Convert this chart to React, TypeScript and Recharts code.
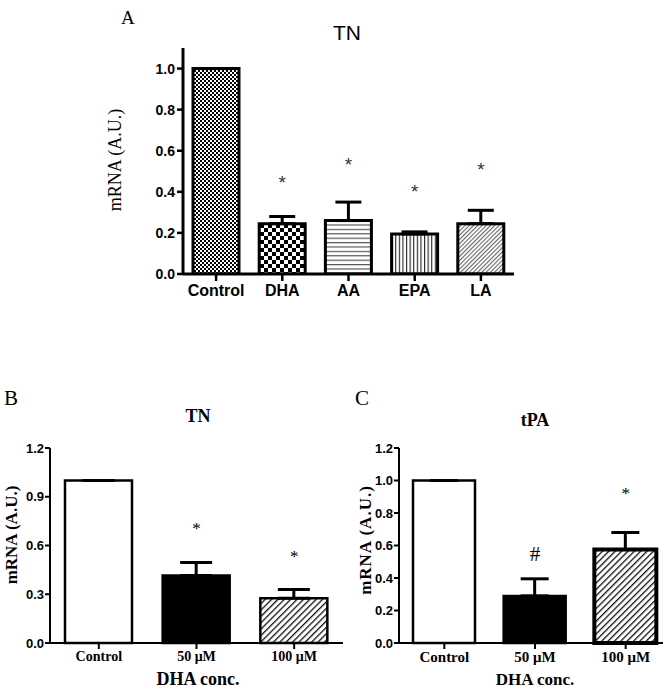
import React from 'react';
import { ComposedChart, Bar, Line, XAxis, YAxis, ErrorBar, Cell } from 'recharts';

// panel A: TN mRNA with different fatty acids
const catsA = ['Control', 'DHA', 'AA', 'EPA', 'LA'];
const valsA = [1.0, 0.245, 0.26, 0.195, 0.245];
const errA = [0, 0.035, 0.09, 0.01, 0.065];
const starA = [null, 0.445, 0.535, 0.4, 0.51];
const ticksA = [0, 0.2, 0.4, 0.6, 0.8, 1.0];

// panels B and C: DHA dose
const catsBC = ['Control', '50 \u03bcM', '100 \u03bcM'];
const valsB = [1.0, 0.415, 0.275];
const errB = [0, 0.08, 0.055];
const starB = [null, 0.705, 0.53];
const ticksB = [0, 0.3, 0.6, 0.9, 1.2];

const valsC = [1.0, 0.29, 0.575];
const errC = [0, 0.105, 0.105];
const markC = [null, 0.545, 0.92];
const markSymC = ['', '#', '*'];
const ticksC = [0, 0.2, 0.4, 0.6, 0.8, 1.0, 1.2];

const fillsA = ['url(#pFineCheck)', 'url(#pCheck)', 'url(#pHoriz)', 'url(#pVert)', 'url(#pDiagLight)'];
const fillsBC = ['#fff', '#000', 'url(#pHatch)'];

const SANS = 'Arial, "Liberation Sans", sans-serif';
const SERIF = '"Times New Roman", "Liberation Serif", serif';

const dataA = catsA.map((name, i) => ({ name, value: valsA[i], err: [0, errA[i]], star: starA[i] }));
const dataB = catsBC.map((name, i) => ({ name, value: valsB[i], err: [0, errB[i]], star: starB[i] }));
const dataC = catsBC.map((name, i) => ({ name, value: valsC[i], err: [0, errC[i]], star: markC[i], sym: markSymC[i] }));

const makeMark = (size: number, family: string, color: string) => (props: any) => {
  const { cx, cy, index, payload } = props;
  if (cy == null || payload.star == null) return <g key={`m${index}`} />;
  const sym = payload.sym || '*';
  return (
    <text key={`m${index}`} x={cx} y={cy} textAnchor="middle" dominantBaseline="central"
      fontSize={sym === '#' ? size + 4 : size} fontFamily={family} fill={color}>
      {sym}
    </text>
  );
};

const Patterns = () => (
  <svg width={0} height={0} style={{ position: 'absolute' }}>
    <defs>
      <pattern id="pFineCheck" width="4" height="4" patternUnits="userSpaceOnUse">
        <rect width="4" height="4" fill="#fff" />
        <rect width="2" height="2" fill="#000" />
        <rect x="2" y="2" width="2" height="2" fill="#000" />
      </pattern>
      <pattern id="pCheck" width="8" height="8" patternUnits="userSpaceOnUse">
        <rect width="8" height="8" fill="#fff" />
        <rect width="4" height="4" fill="#000" />
        <rect x="4" y="4" width="4" height="4" fill="#000" />
      </pattern>
      <pattern id="pHoriz" width="6" height="4.4" patternUnits="userSpaceOnUse">
        <rect width="6" height="4.4" fill="#fff" />
        <rect y="0" width="6" height="1.2" fill="#555" />
      </pattern>
      <pattern id="pVert" width="3.6" height="6" patternUnits="userSpaceOnUse">
        <rect width="3.6" height="6" fill="#fff" />
        <rect x="0" width="1.1" height="6" fill="#222" />
      </pattern>
      <pattern id="pDiagLight" width="3" height="6" patternUnits="userSpaceOnUse" patternTransform="rotate(45)">
        <rect width="3" height="6" fill="#fff" />
        <rect x="0" width="1.1" height="6" fill="#666" />
      </pattern>
      <pattern id="pHatch" width="4.5" height="6" patternUnits="userSpaceOnUse" patternTransform="rotate(45)">
        <rect width="4.5" height="6" fill="#fff" />
        <rect x="0" width="1.3" height="6" fill="#111" />
      </pattern>
    </defs>
  </svg>
);

const textStyle = (family: string, size: number, weight: string | number = 'normal') => ({
  fontFamily: family, fontSize: size, fontWeight: weight, fill: '#000',
});

export default function App() {
  return (
    <div style={{ position: 'fixed', left: 0, top: 0, width: 663, height: 692, overflow: 'hidden', background: '#fff' }}>
      <Patterns />

      {/* A */}
      <div style={{ position: 'absolute', left: 100, top: 0 }}>
        <ComposedChart width={425} height={310} data={dataA} margin={{ top: 48, right: 11, bottom: 6, left: 0 }}>
          <XAxis dataKey="name" height={30} interval={0}
            axisLine={{ stroke: '#000', strokeWidth: 3 }}
            tickLine={{ stroke: '#000', strokeWidth: 2.5 }} tickSize={7} tickMargin={4}
            tick={{ ...textStyle(SANS, 16, 'bold') }} />
          <YAxis domain={[0, 1.1]} ticks={ticksA} width={83} allowDataOverflow
            tickFormatter={(v: number) => v.toFixed(1)}
            axisLine={{ stroke: '#000', strokeWidth: 3 }}
            tickLine={{ stroke: '#000', strokeWidth: 2.5 }} tickSize={6} tickMargin={2}
            tick={{ ...textStyle(SANS, 14, 'bold') }} />
          <Bar dataKey="value" barSize={46} stroke="#000" strokeWidth={3} isAnimationActive={false}>
            {dataA.map((d, i) => <Cell key={d.name} fill={fillsA[i]} />)}
            <ErrorBar dataKey="err" width={13} stroke="#000" strokeWidth={3} direction="y" />
          </Bar>
          <Line dataKey="star" stroke="none" isAnimationActive={false} activeDot={false}
            dot={makeMark(19, SANS, '#333')} />
        </ComposedChart>
      </div>

      {/* B */}
      <div style={{ position: 'absolute', left: 0, top: 380 }}>
        <ComposedChart width={350} height={312} data={dataB} margin={{ top: 68, right: 7, bottom: 4, left: 0 }}>
          <XAxis dataKey="name" height={45} interval={0}
            axisLine={{ stroke: '#000', strokeWidth: 2 }}
            tickLine={{ stroke: '#000', strokeWidth: 2 }} tickSize={6} tickMargin={2}
            tick={{ ...textStyle(SERIF, 14, 'bold') }} />
          <YAxis domain={[0, 1.2]} ticks={ticksB} width={50}
            tickFormatter={(v: number) => v.toFixed(1)}
            axisLine={{ stroke: '#000', strokeWidth: 2 }}
            tickLine={{ stroke: '#000', strokeWidth: 2 }} tickSize={5} tickMargin={1}
            tick={{ ...textStyle(SANS, 13, 'bold') }} />
          <Bar dataKey="value" barSize={67} stroke="#000" strokeWidth={2.5} isAnimationActive={false}>
            {dataB.map((d, i) => <Cell key={d.name} fill={fillsBC[i]} />)}
            <ErrorBar dataKey="err" width={16} stroke="#000" strokeWidth={3} direction="y" />
          </Bar>
          <Line dataKey="star" stroke="none" isAnimationActive={false} activeDot={false}
            dot={makeMark(17, SERIF, '#000')} />
        </ComposedChart>
      </div>

      {/* C */}
      <div style={{ position: 'absolute', left: 340, top: 380 }}>
        <ComposedChart width={340} height={312} data={dataC} margin={{ top: 68, right: 9, bottom: 4, left: 0 }}>
          <XAxis dataKey="name" height={45} interval={0}
            axisLine={{ stroke: '#000', strokeWidth: 2 }}
            tickLine={{ stroke: '#000', strokeWidth: 2 }} tickSize={6} tickMargin={2}
            tick={{ ...textStyle(SERIF, 15, 'bold') }} />
          <YAxis domain={[0, 1.2]} ticks={ticksC} width={59}
            tickFormatter={(v: number) => v.toFixed(1)}
            axisLine={{ stroke: '#000', strokeWidth: 2 }}
            tickLine={{ stroke: '#000', strokeWidth: 2 }} tickSize={5} tickMargin={1}
            tick={{ ...textStyle(SANS, 13, 'bold') }} />
          <Bar dataKey="value" barSize={62} isAnimationActive={false}>
            {dataC.map((d, i) => (
              <Cell key={d.name} fill={fillsBC[i]} stroke="#000" strokeWidth={i === 2 ? 4 : 2.5} />
            ))}
            <ErrorBar dataKey="err" width={14} stroke="#000" strokeWidth={3} direction="y" />
          </Bar>
          <Line dataKey="star" stroke="none" isAnimationActive={false} activeDot={false}
            dot={makeMark(17, SERIF, '#000')} />
        </ComposedChart>
      </div>

      {/* titles, panel letters, axis titles */}
      <svg width={663} height={692} style={{ position: 'absolute', left: 0, top: 0, pointerEvents: 'none' }}>
        <text x={121} y={24} style={textStyle(SERIF, 19)}>A</text>
        <text x={347} y={40} textAnchor="middle" style={textStyle(SANS, 21)}>TN</text>
        <text transform="translate(115,160) rotate(-90)" textAnchor="middle" dominantBaseline="central"
          style={textStyle(SERIF, 18)}>mRNA (A.U.)</text>

        <text x={4} y={405} style={textStyle(SERIF, 21)}>B</text>
        <text x={198} y={422} textAnchor="middle" style={textStyle(SERIF, 18, 'bold')}>TN</text>
        <text transform="translate(11,535) rotate(-90)" textAnchor="middle" dominantBaseline="central"
          style={textStyle(SERIF, 17, 'bold')}>mRNA (A.U.)</text>
        <text x={198} y={685} textAnchor="middle" style={textStyle(SERIF, 18, 'bold')}>DHA conc.</text>

        <text x={355} y={405} style={textStyle(SERIF, 21)}>C</text>
        <text x={535} y={426} textAnchor="middle" style={textStyle(SERIF, 18, 'bold')}>tPA</text>
        <text transform="translate(365,540) rotate(-90)" textAnchor="middle" dominantBaseline="central"
          style={textStyle(SERIF, 17, 'bold')} letterSpacing={1}>mRNA (A.U.)</text>
        <text x={535} y={685} textAnchor="middle" style={textStyle(SERIF, 17, 'bold')}>DHA conc.</text>
      </svg>
    </div>
  );
}
